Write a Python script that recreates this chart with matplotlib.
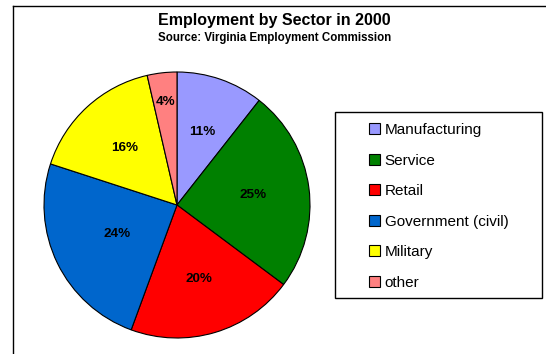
import matplotlib
matplotlib.use("Agg")
import matplotlib.pyplot as plt
import numpy as np
from matplotlib.patches import Patch, Rectangle
from matplotlib.lines import Line2D

plt.rcParams['font.family'] = ['Liberation Sans', 'DejaVu Sans']

categories = ["Manufacturing", "Service", "Retail", "Government (civil)", "Military", "other"]
shares = [10.6, 24.6, 20.4, 24.4, 16.4, 3.6]
colors = ["#9999FF", "#008000", "#FF0000", "#0066CC", "#FFFF00", "#FF8080"]
title = "Employment by Sector in 2000"
subtitle = "Source: Virginia Employment Commission"

W, H = 546, 354
fig = plt.figure(figsize=(W / 100, H / 100), dpi=100)

# outer chart frame (left and top edges visible)
fig.add_artist(Line2D([13 / W, 13 / W], [0, 1 - 6 / H], color="black", lw=1.0))
fig.add_artist(Line2D([13 / W, 1], [1 - 6 / H, 1 - 6 / H], color="black", lw=1.0))

cx, cy, r = 177, 205, 133
ax = fig.add_axes([(cx - r) / W, (H - cy - r) / H, 2 * r / W, 2 * r / H])
wedges, texts, autotexts = ax.pie(
    shares, colors=colors, startangle=90, counterclock=False,
    autopct="%1.0f%%", pctdistance=0.58,
    wedgeprops=dict(edgecolor="black", linewidth=0.8),
    textprops=dict(fontsize=9.7, fontweight="bold", color="black"))
ax.set_xlim(-1, 1)
ax.set_ylim(-1, 1)
ax.set_axis_off()

# small slice label sits further out
w = wedges[-1]
ang = np.deg2rad((w.theta1 + w.theta2) / 2)
autotexts[-1].set_position((0.78 * np.cos(ang), 0.78 * np.sin(ang)))
w = wedges[3]
ang = np.deg2rad((w.theta1 + w.theta2) / 2)
autotexts[3].set_position((0.5 * np.cos(ang), 0.5 * np.sin(ang)))

fig.text(0.5 * (157 + 392) / W, 1 - 21 / H, title, ha="center", va="center",
         fontsize=11.5, fontweight="bold")
fig.text(0.5 * (157 + 393) / W, 1 - 38 / H, subtitle, ha="center", va="center",
         fontsize=8.3, fontweight="bold")

# legend box
fig.add_artist(Rectangle((335 / W, 1 - 298 / H), 207 / W, 186 / H,
                         transform=fig.transFigure, facecolor="white",
                         edgecolor="black", lw=1.0))
handles = [Patch(facecolor=c, edgecolor="black", lw=0.8) for c in colors]
leg = fig.legend(handles, categories, loc="upper left",
                 bbox_to_anchor=(363 / W, 1 - 117 / H), frameon=False,
                 fontsize=11, labelspacing=1.08, handlelength=0.72,
                 handleheight=0.72, handletextpad=0.3, borderaxespad=0)

fig.savefig("out.png", dpi=100)
